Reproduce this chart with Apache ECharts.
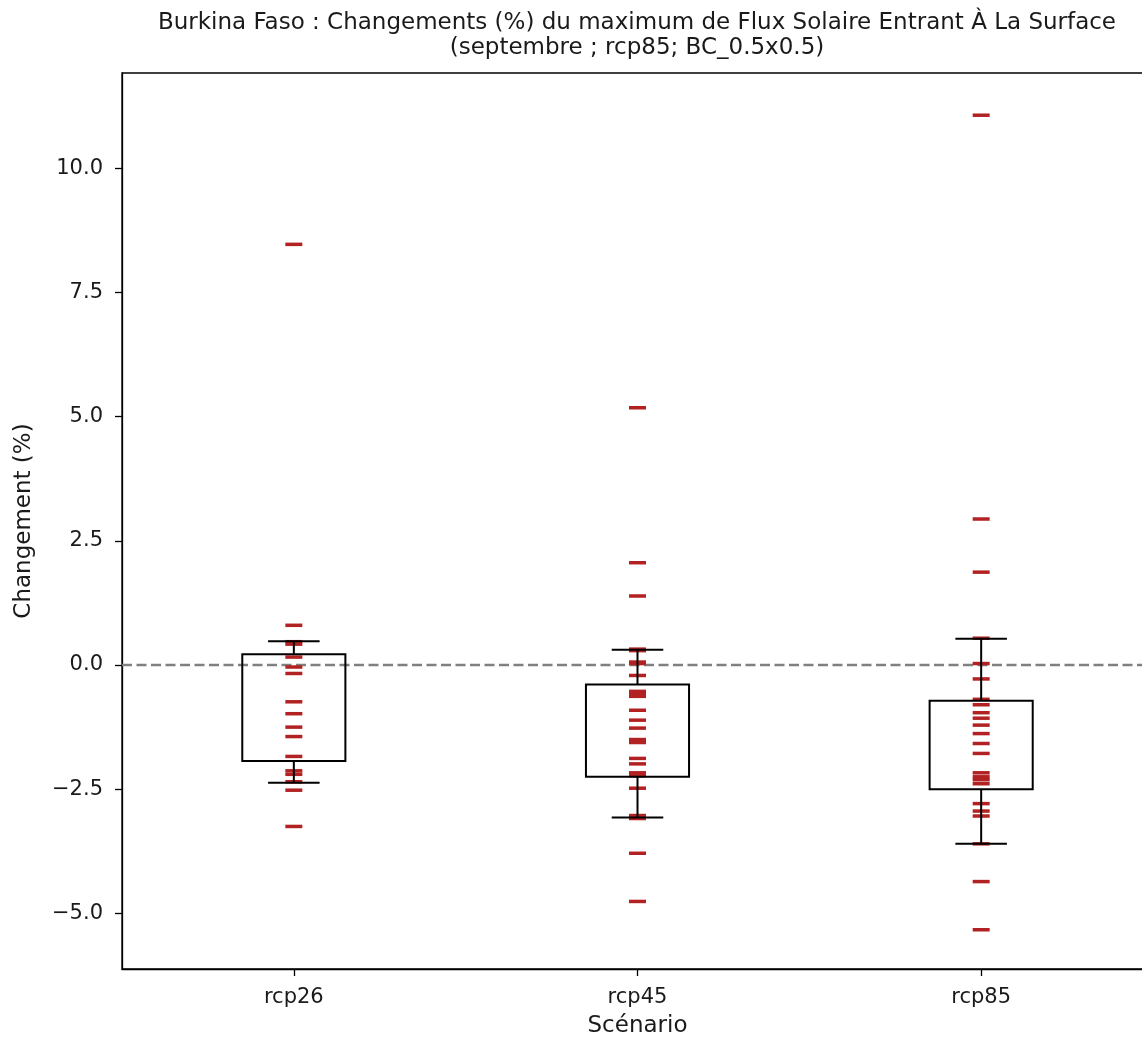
<!DOCTYPE html>
<html>
<head>
<meta charset="utf-8">
<script src="https://cdn.jsdelivr.net/npm/echarts@6/dist/echarts.min.js"></script>
<style>
html,body{margin:0;padding:0;background:#fff;overflow:hidden;}
#chart{width:1142px;height:1039px;}
</style>
</head>
<body>
<div id="chart"></div>
<script>
const categories = ['rcp26', 'rcp45', 'rcp85'];
const yTicks = [-5, -2.5, 0, 2.5, 5, 7.5, 10];
const referenceLevel = 0;

// individual model values (%)
const rcp26Values = [8.47, 0.80, 0.47, 0.42, 0.16, -0.04, -0.17, -0.74, -0.98, -1.25, -1.44, -1.84, -2.13, -2.20, -2.35, -2.52, -3.25];
const rcp45Values = [5.18, 2.06, 1.39, 0.32, 0.29, 0.06, 0.03, -0.21, -0.53, -0.58, -0.63, -0.91, -1.11, -1.27, -1.50, -1.56, -1.88, -1.99, -2.17, -2.23, -2.48, -3.03, -3.09, -3.79, -4.76];
const rcp85Values = [11.07, 2.94, 1.87, 0.54, 0.03, -0.28, -0.69, -0.80, -0.96, -1.07, -1.21, -1.38, -1.58, -1.78, -2.17, -2.25, -2.31, -2.39, -2.79, -2.94, -3.04, -3.60, -4.36, -5.33];

// box statistics: [whisker low, Q1, Q3, whisker high]
const rcp26Box = [-2.37, -1.93, 0.215, 0.48];
const rcp45Box = [-3.07, -2.25, -0.39, 0.31];
const rcp85Box = [-3.60, -2.50, -0.72, 0.53];

const yMin = -6.12, yMax = 11.92;

const allValues = [rcp26Values, rcp45Values, rcp85Values];
const allBoxes = [rcp26Box, rcp45Box, rcp85Box];

const scatterData = [];
allValues.forEach((arr, i) => arr.forEach(v => scatterData.push([i, v])));
const boxData = allBoxes.map((b, i) => [i].concat(b));

const FONT = 'DejaVu Sans';
const TXT = '#1a1a1a';

function fmt(v) {
  const s = Number(v).toFixed(1);
  return s.replace('-', '\u2212');
}

function renderBox(params, api) {
  const x = api.value(0);
  const pLow = api.coord([x, api.value(1)]);
  const pQ1 = api.coord([x, api.value(2)]);
  const pQ3 = api.coord([x, api.value(3)]);
  const pHigh = api.coord([x, api.value(4)]);
  const band = api.size([1, 0])[0];
  const bw = band * 0.3;
  const cw = bw / 2;
  const cx = pQ1[0];
  const style = { stroke: '#000', lineWidth: 2, fill: null };
  return {
    type: 'group',
    children: [
      { type: 'rect', shape: { x: cx - bw / 2, y: pQ3[1], width: bw, height: pQ1[1] - pQ3[1] }, style: { stroke: '#000', lineWidth: 2, fill: 'rgba(0,0,0,0)' } },
      { type: 'line', shape: { x1: cx, y1: pQ3[1], x2: cx, y2: pHigh[1] }, style: style },
      { type: 'line', shape: { x1: cx, y1: pQ1[1], x2: cx, y2: pLow[1] }, style: style },
      { type: 'line', shape: { x1: cx - cw / 2, y1: pHigh[1], x2: cx + cw / 2, y2: pHigh[1] }, style: style },
      { type: 'line', shape: { x1: cx - cw / 2, y1: pLow[1], x2: cx + cw / 2, y2: pLow[1] }, style: style }
    ]
  };
}

function renderZero(params, api) {
  const cs = params.coordSys;
  const p = api.coord([0, api.value(1)]);
  return {
    type: 'line',
    shape: { x1: cs.x, y1: p[1], x2: cs.x + cs.width, y2: p[1] },
    style: { stroke: '#808080', lineWidth: 2.6, lineDash: [10, 4.5], fill: null }
  };
}

const chart = echarts.init(document.getElementById('chart'), null, { renderer: 'canvas' });
chart.setOption({
  backgroundColor: '#fff',
  animation: false,
  textStyle: { fontFamily: FONT },
  title: {
    text: 'Burkina Faso : Changements (%) du maximum de Flux Solaire Entrant \u00C0 La Surface\n(septembre ; rcp85; BC_0.5x0.5)',
    left: 632,
    top: 6,
    textAlign: 'center',
    textStyle: { fontFamily: FONT, fontWeight: 'normal', fontSize: 23, color: TXT, lineHeight: 25 }
  },
  grid: {
    left: 122, top: 73, width: 1031, height: 896,
    outerBoundsMode: 'none',
    show: true, borderColor: '#000', borderWidth: 1.3, backgroundColor: 'transparent',
    containLabel: false
  },
  xAxis: {
    type: 'category',
    data: categories,
    boundaryGap: true,
    name: 'Sc\u00E9nario',
    nameLocation: 'middle',
    nameGap: 46,
    nameTextStyle: { fontFamily: FONT, fontSize: 23, color: TXT },
    axisLine: { show: true, onZero: false, lineStyle: { color: '#000', width: 1.3 } },
    axisTick: { show: true, alignWithLabel: true, length: 7, lineStyle: { color: '#000', width: 1.3 } },
    axisLabel: { fontFamily: FONT, fontSize: 21, color: TXT, margin: 18 },
    splitLine: { show: false }
  },
  yAxis: {
    type: 'value',
    min: yMin,
    max: yMax,
    name: 'Changement (%)',
    nameLocation: 'middle',
    nameGap: 86,
    nameTextStyle: { fontFamily: FONT, fontSize: 23, color: TXT },
    axisLine: { show: true, onZero: false, lineStyle: { color: '#000', width: 1.3 } },
    axisTick: { show: true, length: 7, customValues: yTicks, lineStyle: { color: '#000', width: 1.3 } },
    axisLabel: { fontFamily: FONT, fontSize: 21, color: TXT, margin: 19, customValues: yTicks, formatter: fmt },
    splitLine: { show: false }
  },
  series: [
    {
      type: 'custom',
      data: [[0, referenceLevel]],
      renderItem: renderZero,
      encode: { x: 0, y: 1 },
      z: 2,
      silent: true
    },
    {
      type: 'scatter',
      data: scatterData,
      symbol: 'rect',
      symbolSize: [17, 3.5],
      itemStyle: { color: '#b22222', opacity: 1 },
      z: 3,
      silent: true
    },
    {
      type: 'custom',
      data: boxData,
      renderItem: renderBox,
      encode: { x: 0, y: [1, 2, 3, 4] },
      z: 4,
      silent: true
    }
  ]
});
</script>
</body>
</html>
